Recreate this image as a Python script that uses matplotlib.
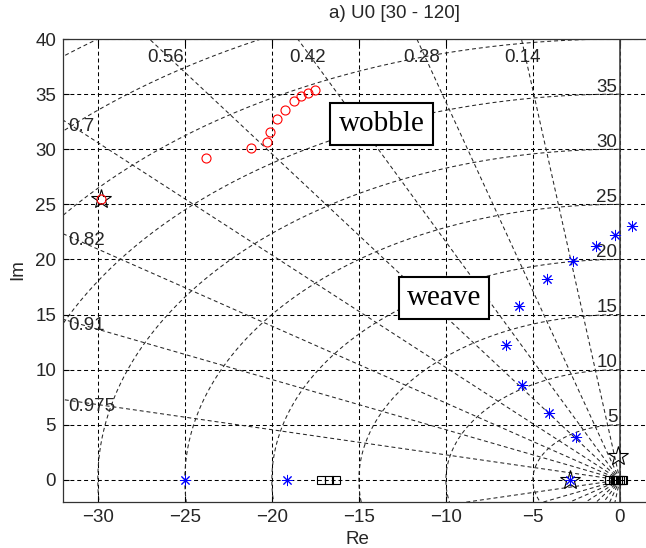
import numpy as np
import matplotlib
matplotlib.use("Agg")
import matplotlib.pyplot as plt

# ---- data ----
wobble_re = [-23.8, -21.2, -20.3, -20.1, -19.7, -19.25, -18.7, -18.3, -17.9, -17.5, -29.8]
wobble_im = [29.2, 30.1, 30.7, 31.6, 32.7, 33.6, 34.4, 34.8, 35.1, 35.4, 25.5]

weave_re = [-25.0, -19.1, 0.67, -0.31, -1.4, -2.7, -4.2, -5.8, -6.55, -5.6, -4.1, -2.5, -2.85]
weave_im = [0.0, 0.0, 23.0, 22.2, 21.2, 19.9, 18.2, 15.8, 12.2, 8.6, 6.05, 3.9, 0.0]

star_re = [-29.8, -2.85, -0.1]
star_im = [25.5, 0.0, 2.2]

square_re = [-17.2, -16.7, -16.3, -0.6, -0.4, -0.3, -0.2, -0.1, 0.0, 0.1, 0.2]
square_im = [0.0, 0.0, 0.0, 0.0, 0.0, 0.0, 0.0, 0.0, 0.0, 0.0, 0.0]

zeta_values = [0.14, 0.28, 0.42, 0.56, 0.7, 0.82, 0.91, 0.975]
zeta_labels = ['0.14', '0.28', '0.42', '0.56', '0.7', '0.82', '0.91', '0.975']
wn_values = [5, 10, 15, 20, 25, 30, 35, 40, 45, 50]
wn_labels = ['5', '10', '15', '20', '25', '30', '35']

xticks = [-30, -25, -20, -15, -10, -5, 0]
yticks = [0, 5, 10, 15, 20, 25, 30, 35, 40]

XMIN, XMAX = -32, 1.5
YMIN, YMAX = -2, 40
FS = 13.5

plt.rcParams['font.family'] = ['Liberation Sans', 'DejaVu Sans']

fig = plt.figure(figsize=(6.46, 5.48), dpi=100)
ax = fig.add_axes([63 / 646, (548 - 502) / 548, 583 / 646, 463 / 548])

dash = (0, (3.8, 2.8))
grid_kw = dict(color='k', lw=0.75, linestyle=dash, zorder=1)

# rectangular grid
for xt in xticks:
    ax.axvline(xt, **grid_kw)
for yt in yticks:
    ax.axhline(yt, **grid_kw)

# s-plane grid: damping rays and natural frequency circles
sg_kw = dict(color='0.15', lw=0.75, linestyle=dash, zorder=1)
for z in zeta_values:
    wd = np.sqrt(1 - z ** 2)
    r = np.array([0, 80])
    ax.plot(-z * r, wd * r, **sg_kw)
    ax.plot(-z * r, -wd * r, **sg_kw)
th = np.linspace(np.pi / 2, 3 * np.pi / 2, 400)
for wn in wn_values:
    ax.plot(wn * np.cos(th), wn * np.sin(th), **sg_kw)
ax.plot([0, 0], [YMIN, YMAX], color='0.25', lw=1.2, zorder=2)

# damping labels
for z, lab in zip(zeta_values, zeta_labels):
    k = np.sqrt(1 - z ** 2) / z
    x_top = -38.3 / k
    if x_top > XMIN + 1:
        ax.text(x_top - 0.2, 38.3, lab, ha='center', va='center', fontsize=FS, color='0.15')
    else:
        ax.text(XMIN + 0.3, -XMIN * k - 0.6, lab, ha='left', va='center', fontsize=FS, color='0.15')

for lab in wn_labels:
    ax.text(-0.15, float(lab) - 0.15, lab, ha='right', va='bottom', fontsize=FS, color='0.15')

# poles
ax.plot(square_re, square_im, 's', ms=6, mfc='none', mec='k', mew=0.8, zorder=3)
ax.plot(star_re, star_im, '*', ms=15, mfc='none', mec='k', mew=0.8, zorder=3)
ax.plot(wobble_re, wobble_im, 'o', ms=6.5, mfc='none', mec='r', mew=0.8, zorder=4)
ax.plot(weave_re, weave_im, marker=(8, 2, 0), ls='none', ms=8, mec='b', mfc='b', mew=0.7, zorder=4)

box = dict(boxstyle='square,pad=0.28', fc='white', ec='k', lw=1.5)
ax.text(-13.7, 32.3, 'wobble', ha='center', va='center', fontsize=21,
        family=['Liberation Serif', 'DejaVu Serif'], bbox=box, zorder=5)
ax.text(-10.1, 16.5, 'weave', ha='center', va='center', fontsize=21,
        family=['Liberation Serif', 'DejaVu Serif'], bbox=box, zorder=5)

ax.set_xlim(XMIN, XMAX)
ax.set_ylim(YMIN, YMAX)
ax.set_xticks(xticks)
ax.set_yticks(yticks)
ax.tick_params(direction='in', length=4, labelsize=FS, colors='k', top=True, pad=5)
for lbl in ax.get_xticklabels() + ax.get_yticklabels():
    lbl.set_color('0.15')
ax.spines['right'].set_visible(False)
for s in ['left', 'bottom', 'top']:
    ax.spines[s].set_color('0.2')
    ax.spines[s].set_linewidth(0.9)

fig.text(357 / 646, 1 - 539 / 548, 'Re', ha='center', va='center', fontsize=FS, color='0.15')
fig.text(18 / 646, 1 - 270 / 548, 'Im', ha='center', va='center', rotation=90, fontsize=FS, color='0.15')
fig.text(395 / 646, 1 - 14 / 548, 'a) U0 [30 - 120]', ha='center', va='center', fontsize=FS, color='0.15')

fig.savefig('out.png', dpi=100)
